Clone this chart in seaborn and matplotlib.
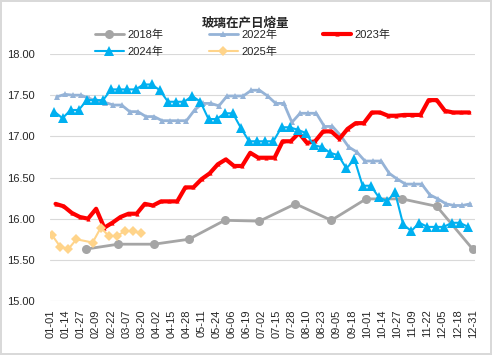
import pandas as pd
import seaborn as sns
import matplotlib.pyplot as plt

# ---------------- data ----------------
# 2018: month-end readings
dates_2018 = ['2018-01-31', '2018-02-28', '2018-03-31', '2018-04-30', '2018-05-31', '2018-06-30',
              '2018-07-31', '2018-08-31', '2018-09-30', '2018-10-31', '2018-11-30', '2018-12-31']
vals_2018 = [15.63, 15.69, 15.69, 15.75, 15.98, 15.97, 16.18, 15.98, 16.24, 16.24, 16.15, 15.63]

# weekly readings (Thursdays)
start_2022 = '2022-01-06'
vals_2022 = [17.48, 17.51, 17.50, 17.50, 17.46, 17.43, 17.41, 17.38, 17.38, 17.30,
             17.30, 17.24, 17.24, 17.19, 17.19, 17.19, 17.19, 17.32, 17.40, 17.40,
             17.37, 17.49, 17.49, 17.49, 17.56, 17.56, 17.49, 17.40, 17.40, 17.17,
             17.28, 17.28, 17.28, 17.12, 17.12, 17.01, 16.87, 16.81, 16.70, 16.70,
             16.70, 16.55, 16.48, 16.42, 16.42, 16.42, 16.29, 16.24, 16.18, 16.16,
             16.16, 16.18]

start_2023 = '2023-01-05'
vals_2023 = [16.18, 16.15, 16.07, 16.02, 16.00, 16.12, 15.89, 15.95, 16.02, 16.06,
             16.06, 16.18, 16.16, 16.21, 16.21, 16.21, 16.38, 16.38, 16.48, 16.55,
             16.66, 16.72, 16.64, 16.64, 16.80, 16.74, 16.74, 16.74, 16.94, 16.94,
             17.04, 16.92, 16.94, 17.06, 17.06, 16.97, 17.09, 17.16, 17.16, 17.29,
             17.29, 17.25, 17.25, 17.26, 17.26, 17.26, 17.44, 17.44, 17.31, 17.29,
             17.29, 17.29]

start_2024 = '2024-01-04'
vals_2024 = [17.30, 17.22, 17.32, 17.32, 17.44, 17.44, 17.44, 17.57, 17.57, 17.57,
             17.57, 17.63, 17.63, 17.56, 17.42, 17.42, 17.42, 17.49, 17.42, 17.21,
             17.21, 17.28, 17.28, 17.10, 16.94, 16.94, 16.94, 16.94, 17.11, 17.11,
             17.08, 17.04, 16.89, 16.87, 16.80, 16.77, 16.61, 16.72, 16.40, 16.40,
             16.26, 16.21, 16.32, 15.93, 15.85, 15.95, 15.90, 15.90, 15.90, 15.95,
             15.95, 15.90]

# 2025: holiday week missing
dates_2025 = ['2025-01-02', '2025-01-09', '2025-01-16', '2025-01-23', '2025-02-06', '2025-02-13',
              '2025-02-20', '2025-02-27', '2025-03-06', '2025-03-13', '2025-03-20']
vals_2025 = [15.80, 15.66, 15.63, 15.75, 15.71, 15.89, 15.79, 15.79, 15.85, 15.85, 15.82]

y_ticks = [15.0, 15.5, 16.0, 16.5, 17.0, 17.5, 18.0]


def day_of_year(dates):
    return pd.to_datetime(pd.Series(dates)).dt.dayofyear.values - 1


def weekly(start, vals):
    return pd.date_range(start, periods=len(vals), freq='7D')


series = [
    ('2018年', day_of_year(dates_2018), vals_2018, dict(color='#A5A5A5', linewidth=2, marker='o', markersize=6.5)),
    ('2022年', day_of_year(weekly(start_2022, vals_2022)), vals_2022, dict(color='#95B3D7', linewidth=2, marker='^', markersize=4)),
    ('2023年', day_of_year(weekly(start_2023, vals_2023)), vals_2023, dict(color='#FF0000', linewidth=3, marker='^', markersize=3)),
    ('2024年', day_of_year(weekly(start_2024, vals_2024)), vals_2024, dict(color='#00B0F0', linewidth=1.5, marker='^', markersize=6.5)),
    ('2025年', day_of_year(dates_2025), vals_2025, dict(color='#FFD48A', linewidth=1.5, marker='D', markersize=5.5)),
]

# ---------------- plot ----------------
sns.set_style('white')
plt.rcParams['font.family'] = ['Liberation Sans', 'Noto Sans CJK SC']

fig = plt.figure(figsize=(4.92, 3.55), dpi=100, edgecolor='#D9D9D9', linewidth=1.5)
ax = fig.add_axes([50 / 492, 1 - 301 / 355, 425 / 492, 247 / 355])

for name, x, y, style in series:
    df = pd.DataFrame({'day': x, 'value': y})
    sns.lineplot(data=df, x='day', y='value', ax=ax, label=name, sort=False,
                 markeredgewidth=0, **style)

ax.set_ylim(15, 18)
ax.set_yticks(y_ticks)
ax.set_yticklabels([f'{v:.2f}' for v in y_ticks], fontsize=8)
ax.yaxis.grid(True, color='#D9D9D9', linewidth=0.8)
ax.set_axisbelow(True)

tick_days = list(range(0, 365, 13))
tick_labels = pd.date_range('2001-01-01', periods=len(tick_days), freq='13D').strftime('%m-%d')
ax.set_xlim(-0.8, 366)
ax.set_xticks(tick_days)
ax.set_xticklabels(tick_labels, rotation=90, fontsize=8)
ax.tick_params(axis='x', length=0, pad=6)
ax.tick_params(axis='y', length=0, pad=11)
ax.set_xlabel('')
ax.set_ylabel('')
for s in ax.spines.values():
    s.set_visible(False)

fig.text(245 / 492, 1 - 23 / 355, '玻璃在产日熔量', ha='center', va='center',
         fontsize=9, fontweight='bold', family=['Noto Sans CJK SC'])

# legend filled row by row: 2018 2022 2023 / 2024 2025
ax.get_legend().remove()
handles, labels = ax.get_legend_handles_labels()
order = [0, 3, 1, 4, 2]
fig.legend([handles[i] for i in order], [labels[i] for i in order], ncol=3,
           loc='upper left', bbox_to_anchor=(95 / 492, 1 - 30 / 355),
           frameon=False, fontsize=8, handlelength=2.6, handletextpad=0.3,
           columnspacing=4.1, borderpad=0, borderaxespad=0, labelspacing=0.55)

fig.savefig('out.png', dpi=100, edgecolor=fig.get_edgecolor())
